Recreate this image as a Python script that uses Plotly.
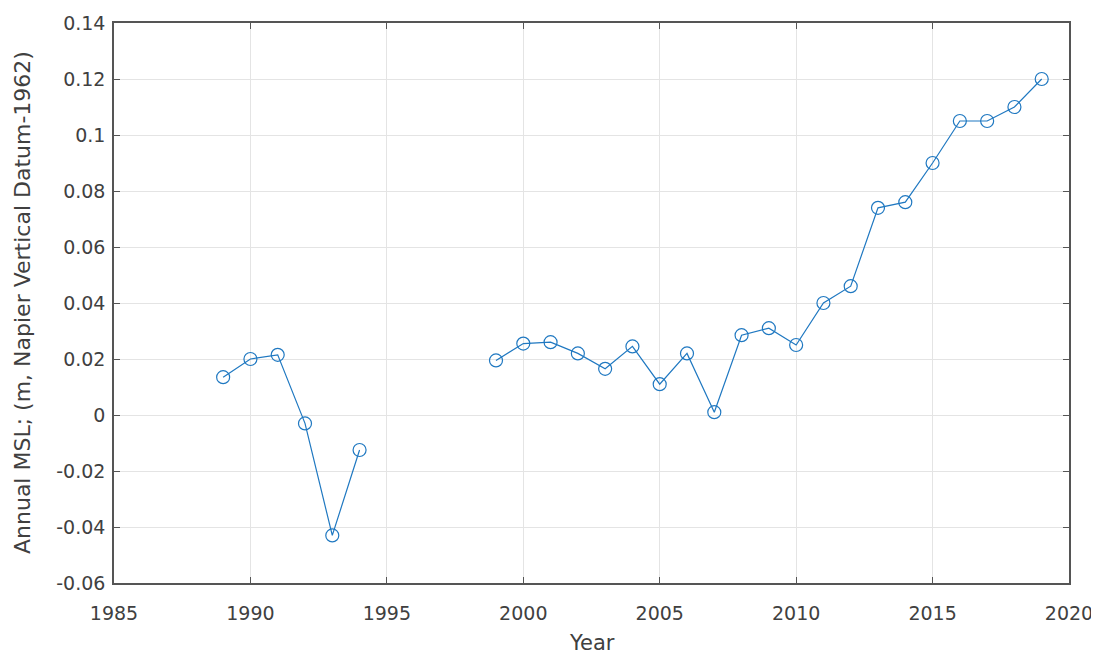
import plotly.graph_objects as go

years = [1989, 1990, 1991, 1992, 1993, 1994, None,
         1999, 2000, 2001, 2002, 2003, 2004, 2005, 2006, 2007, 2008, 2009,
         2010, 2011, 2012, 2013, 2014, 2015, 2016, 2017, 2018, 2019]
msl = [0.0135, 0.020, 0.0215, -0.003, -0.043, -0.0125, None,
       0.0195, 0.0255, 0.026, 0.022, 0.0165, 0.0245, 0.011, 0.022, 0.001, 0.0285, 0.031,
       0.025, 0.040, 0.046, 0.074, 0.076, 0.090, 0.105, 0.105, 0.110, 0.120]

x_ticks = [1985, 1990, 1995, 2000, 2005, 2010, 2015, 2020]
y_ticks = [-0.06, -0.04, -0.02, 0, 0.02, 0.04, 0.06, 0.08, 0.1, 0.12, 0.14]
y_labels = ["-0.06", "-0.04", "-0.02", "0", "0.02", "0.04", "0.06", "0.08", "0.1", "0.12", "0.14"]

x_title = "Year"
y_title = "Annual MSL; (m, Napier Vertical Datum-1962)"

color = "#1f78c1"
font_family = "DejaVu Sans"
text_color = "#404040"

fig = go.Figure()
fig.add_trace(go.Scatter(
    x=years, y=msl, mode="lines+markers",
    line=dict(color=color, width=1.2),
    marker=dict(symbol="circle-open", size=13, color=color, line=dict(width=1.2, color=color)),
    connectgaps=False, showlegend=False,
))

axis_common = dict(
    showline=True, linecolor="#555555", linewidth=1.5, mirror="ticks",
    ticks="inside", ticklen=6, tickcolor="#555555",
    showgrid=True, gridcolor="#e4e4e4", gridwidth=1, zeroline=False,
    tickfont=dict(family=font_family, size=19, color=text_color),
    automargin=False,
)

fig.update_layout(
    width=1091, height=647,
    margin=dict(l=106, r=30, t=15, b=72),
    paper_bgcolor="white", plot_bgcolor="white",
    xaxis=dict(range=[1985, 2020], tickvals=x_ticks, ticklabelstandoff=12, **axis_common),
    yaxis=dict(range=[-0.06, 0.14], tickvals=y_ticks, ticktext=y_labels, ticklabelstandoff=3,
               **axis_common),
    annotations=[
        dict(text=x_title, xref="paper", yref="paper", x=0.5, y=0,
             xanchor="center", yanchor="middle", yshift=-60, showarrow=False,
             font=dict(family=font_family, size=21, color=text_color)),
        dict(text=y_title, xref="paper", yref="paper", x=0, y=0.5,
             xanchor="center", yanchor="middle", xshift=-92, textangle=-90, showarrow=False,
             font=dict(family=font_family, size=22, color=text_color)),
    ],
)

fig.write_html("out.html")
